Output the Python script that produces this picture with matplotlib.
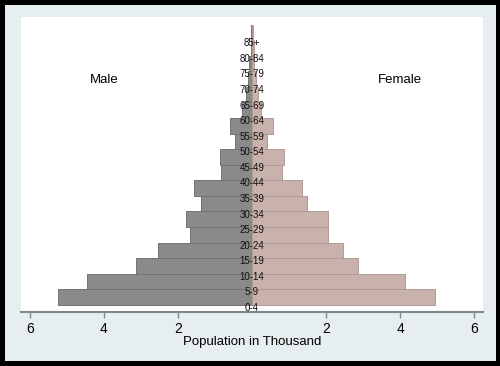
import numpy as np
import matplotlib.pyplot as plt
from matplotlib.patches import Rectangle

plt.rcParams['font.family'] = ['Liberation Sans', 'DejaVu Sans']

age_groups = ['0-4', '5-9', '10-14', '15-19', '20-24', '25-29', '30-34', '35-39',
              '40-44', '45-49', '50-54', '55-59', '60-64', '65-69', '70-74',
              '75-79', '80-84', '85+']
male = [5.23, 4.46, 3.14, 2.54, 1.68, 1.79, 1.38, 1.58, 0.84, 0.86,
        0.45, 0.59, 0.27, 0.17, 0.11, 0.07, 0.04, 0.03]
female = [4.94, 4.12, 2.86, 2.45, 2.06, 2.06, 1.48, 1.35, 0.81, 0.87,
          0.40, 0.56, 0.23, 0.15, 0.10, 0.06, 0.05, 0.03]
tick_values = [-6, -4, -2, 2, 4, 6]
tick_labels = ['6', '4', '2', '2', '4', '6']

male_color = '#8a8a8a'
female_color = '#c9b1ac'
axis_color = '#7c8a8e'

fig = plt.figure(figsize=(5, 3.66), dpi=100)
fig.patch.set_facecolor('black')
fig.patches.append(Rectangle((5 / 500, 5 / 366), 491 / 500, 356 / 366,
                             transform=fig.transFigure, facecolor='#e7eef0',
                             edgecolor='none', zorder=-10))

ax = fig.add_axes([21 / 500, 54 / 366, 462 / 500, 295 / 366])
ax.set_facecolor('white')

pos = np.arange(len(age_groups))
ax.barh(pos + 0.7, -np.array(male), height=1.0, color=male_color,
        edgecolor='#747474', linewidth=0.7)
ax.barh(pos + 0.7, female, height=1.0, color=female_color,
        edgecolor='#b29b97', linewidth=0.7)

for p, lab in zip(pos, age_groups):
    ax.text(0, p, lab, ha='center', va='center', fontsize=7, color='#111111')

ax.text(-4.0, 14.65, 'Male', ha='center', va='center', fontsize=9.5)
ax.text(4.0, 14.65, 'Female', ha='center', va='center', fontsize=9.5)

ax.set_xlim(-6.24, 6.24)
ax.set_ylim(-0.26, 18.69)
ax.set_xticks(tick_values)
ax.set_xticklabels(tick_labels)
ax.set_yticks([])
ax.tick_params(axis='x', length=4, width=1, color=axis_color, labelsize=10, pad=3)
ax.set_xlabel('Population in Thousand', fontsize=9.5, labelpad=0)

for side in ['left', 'right', 'top']:
    ax.spines[side].set_visible(False)
ax.spines['bottom'].set_color(axis_color)
ax.spines['bottom'].set_linewidth(1.5)

plt.savefig('out.png', dpi=100, facecolor=fig.get_facecolor())
